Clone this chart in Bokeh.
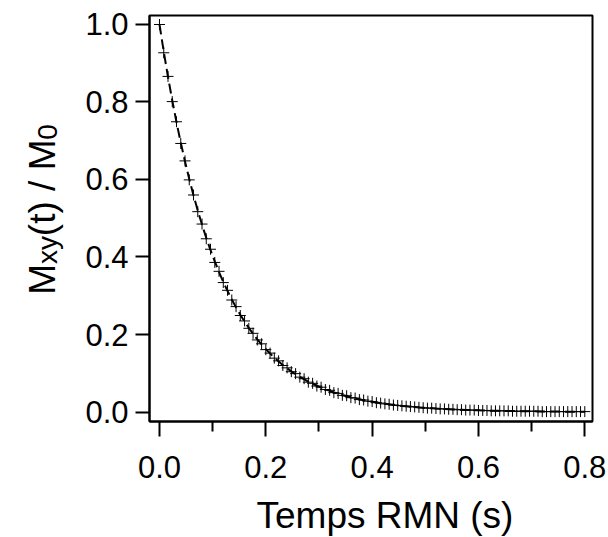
import math
from bokeh.plotting import figure
from bokeh.models import Range1d, FixedTicker, NumeralTickFormatter, ColumnDataSource, Title
from bokeh.layouts import row
from bokeh.core.properties import value
from bokeh.embed import file_html
from bokeh.resources import INLINE

# ---- data ----
t_s = [0.000, 0.008, 0.016, 0.024, 0.032, 0.040, 0.048, 0.056, 0.064, 0.072,
       0.080, 0.088, 0.096, 0.104, 0.112, 0.120, 0.128, 0.136, 0.144, 0.152,
       0.160, 0.168, 0.176, 0.184, 0.192, 0.200, 0.208, 0.216, 0.224, 0.232,
       0.240, 0.248, 0.256, 0.264, 0.272, 0.280, 0.288, 0.296, 0.304, 0.312,
       0.320, 0.328, 0.336, 0.344, 0.352, 0.360, 0.368, 0.376, 0.384, 0.392,
       0.400, 0.408, 0.416, 0.424, 0.432, 0.440, 0.448, 0.456, 0.464, 0.472,
       0.480, 0.488, 0.496, 0.504, 0.512, 0.520, 0.528, 0.536, 0.544, 0.552,
       0.560, 0.568, 0.576, 0.584, 0.592, 0.600, 0.608, 0.616, 0.624, 0.632,
       0.640, 0.648, 0.656, 0.664, 0.672, 0.680, 0.688, 0.696, 0.704, 0.712,
       0.720, 0.728, 0.736, 0.744, 0.752, 0.760, 0.768, 0.776, 0.784, 0.792,
       0.800]

mxy_measured = [1.000, 0.927, 0.866, 0.801, 0.749, 0.693, 0.648, 0.599, 0.560, 0.517,
                0.485, 0.447, 0.420, 0.386, 0.363, 0.334, 0.314, 0.289, 0.272, 0.249,
                0.235, 0.216, 0.203, 0.186, 0.176, 0.161, 0.152, 0.139, 0.132, 0.120,
                0.114, 0.104, 0.099, 0.090, 0.086, 0.077, 0.074, 0.067, 0.064, 0.058,
                0.056, 0.050, 0.048, 0.043, 0.042, 0.037, 0.036, 0.032, 0.031, 0.028,
                0.027, 0.024, 0.023, 0.021, 0.020, 0.018, 0.017, 0.016, 0.015, 0.014,
                0.013, 0.012, 0.011, 0.010, 0.010, 0.009, 0.008, 0.008, 0.007, 0.007,
                0.006, 0.006, 0.005, 0.005, 0.005, 0.004, 0.004, 0.004, 0.003, 0.003,
                0.003, 0.003, 0.003, 0.002, 0.002, 0.002, 0.002, 0.002, 0.002, 0.002,
                0.001, 0.001, 0.001, 0.001, 0.001, 0.001, 0.001, 0.001, 0.001, 0.001,
                0.001]

mxy_fit = [1.0000, 0.9299, 0.8646, 0.8040, 0.7476, 0.6951, 0.6464, 0.6010, 0.5589, 0.5197,
           0.4832, 0.4493, 0.4178, 0.3885, 0.3612, 0.3359, 0.3123, 0.2904, 0.2700, 0.2511,
           0.2335, 0.2171, 0.2019, 0.1877, 0.1745, 0.1623, 0.1509, 0.1403, 0.1305, 0.1213,
           0.1128, 0.1049, 0.0975, 0.0907, 0.0843, 0.0784, 0.0729, 0.0678, 0.0631, 0.0586,
           0.0545, 0.0507, 0.0471, 0.0438, 0.0408, 0.0379, 0.0352, 0.0328, 0.0305, 0.0283,
           0.0263, 0.0245, 0.0228, 0.0212, 0.0197, 0.0183, 0.0170, 0.0158, 0.0147, 0.0137,
           0.0127, 0.0118, 0.0110, 0.0102, 0.0095, 0.0088, 0.0082, 0.0076, 0.0071, 0.0066,
           0.0061, 0.0057, 0.0053, 0.0049, 0.0046, 0.0043, 0.0040, 0.0037, 0.0034, 0.0032,
           0.0030, 0.0028, 0.0026, 0.0024, 0.0022, 0.0021, 0.0019, 0.0018, 0.0017, 0.0015,
           0.0014, 0.0013, 0.0012, 0.0012, 0.0011, 0.0010, 0.0009, 0.0009, 0.0008, 0.0007,
           0.0007]

x_ticks = [0.0, 0.2, 0.4, 0.6, 0.8]
x_minor_ticks = [0.1, 0.3, 0.5, 0.7]
y_ticks = [0.0, 0.2, 0.4, 0.6, 0.8, 1.0]
x_title = "Temps RMN (s)"
y_title_parts = ["M", "xy", "(t) / M", "0"]

FONT = "Liberation Sans"

# ---- layout (pixels) ----
W, H = 608, 537
LW = 80                                   # width of the y-title strip
FL, FR, FT, FB = 149, 592, 15, 422        # frame edges in page pixels
X0, X1 = -0.0188, 0.8145
Y0, Y1 = -0.0245, 1.0232

# ---- y-title strip: data units = page pixels ----
lf = figure(width=LW, height=H, output_backend="svg", toolbar_location=None,
            x_range=Range1d(0, LW), y_range=Range1d(FB, FT), title=None,
            x_axis_location=None, y_axis_location=None,
            min_border_left=0, min_border_right=0,
            min_border_top=FT, min_border_bottom=H - FB)
lf.grid.visible = False
lf.outline_line_color = None
lf.background_fill_color = "white"
lf.border_fill_color = "white"

main_size, sub_size, sub_shift = 37, 28, 5
base_x, start_y = 42, 295
adv = [0.833 * main_size, 1.0 * sub_size, 2.611 * main_size]
offs = [0, adv[0], adv[0] + adv[1], adv[0] + adv[1] + adv[2]]
sizes = [main_size, sub_size, main_size, sub_size]
shifts = [0, sub_shift, 0, sub_shift]
ysrc = ColumnDataSource(dict(
    x=[base_x + s for s in shifts],
    y=[start_y - o for o in offs],
    text=y_title_parts,
    size=[f"{s}px" for s in sizes],
))
lf.text(x="x", y="y", text="text", source=ysrc, angle=math.pi / 2,
        text_align="left", text_baseline="alphabetic",
        text_font=value(FONT), text_font_size="size", text_color="black")

# ---- main plot ----
p = figure(width=W - LW, height=H, output_backend="svg", toolbar_location=None,
           x_range=Range1d(X0, X1), y_range=Range1d(Y0, Y1),
           min_border_left=FL - LW, min_border_right=W - FR, min_border_top=FT,
           min_border_bottom=H - FB)
p.grid.visible = False
p.outline_line_color = "black"
p.outline_line_width = 2
p.background_fill_color = "white"
p.border_fill_color = "white"

# fit line (dashed) and measured points (crosses)
p.line(t_s, mxy_fit, line_color="black", line_width=2, line_dash="10 5")
p.scatter(t_s, mxy_measured, marker="cross", size=11, line_color="black",
          line_width=1)

# x axis
xa = p.xaxis[0]
xa.ticker = FixedTicker(ticks=x_ticks, minor_ticks=x_minor_ticks)
xa.formatter = NumeralTickFormatter(format="0.0")
xa.axis_line_color = "black"
xa.axis_line_width = 2
xa.major_tick_line_width = 2
xa.major_tick_in = 0
xa.major_tick_out = 15
xa.minor_tick_line_width = 2
xa.minor_tick_in = 0
xa.minor_tick_out = 10
xa.major_label_text_font = FONT
xa.major_label_text_font_size = "31px"
xa.major_label_text_color = "black"
xa.major_label_standoff = 19
# tiny blank spacer below the tick labels, so the title sits lower
xa.axis_label = "\u00a0"
xa.axis_label_text_font_size = "1px"
xa.axis_label_standoff = 10

# y axis
ya = p.yaxis[0]
ya.ticker = FixedTicker(ticks=y_ticks)
ya.formatter = NumeralTickFormatter(format="0.0")
ya.axis_line_color = "black"
ya.axis_line_width = 2
ya.major_tick_line_width = 2
ya.major_tick_in = 0
ya.major_tick_out = 14
ya.minor_tick_line_color = None
ya.major_label_text_font = FONT
ya.major_label_text_font_size = "31px"
ya.major_label_text_color = "black"
ya.major_label_standoff = 7

# x title, below the tick labels and shifted right like the reference
p.add_layout(Title(text=x_title, align="left", offset=107, vertical_align="top",
                   standoff=0, text_font=FONT, text_font_size="37px",
                   text_font_style="normal", text_color="black"), "below")

layout = row(lf, p)
open("out.html", "w").write(file_html(layout, INLINE))
